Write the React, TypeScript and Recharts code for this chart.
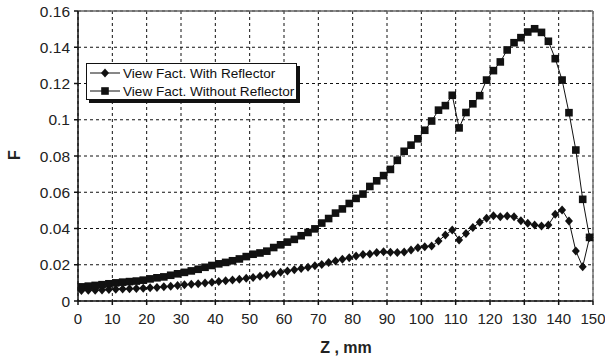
import { LineChart, Line, XAxis, YAxis, CartesianGrid, ReferenceLine } from 'recharts'

// Z positions (mm) where the view factor was sampled
const zMm = [
  1, 3, 5, 7, 9, 11, 13, 15, 17, 19, 21, 23, 25, 27, 29, 31, 33, 35, 37, 39,
  41, 43, 45, 47, 49, 51, 53, 55, 57, 59, 61, 63, 65, 67, 69, 71, 73, 75, 77, 79,
  81, 83, 85, 87, 89, 91, 93, 95, 97, 99, 101, 103, 105, 107, 109, 111, 113, 115, 117, 119,
  121, 123, 125, 127, 129, 131, 133, 135, 137, 139, 141, 143, 145, 147, 149,
]

const conReflector = [
  0.0058, 0.0059, 0.006, 0.0061, 0.0063, 0.0065, 0.0066, 0.0067, 0.0069, 0.0071,
  0.0073, 0.0075, 0.0078, 0.0081, 0.0085, 0.0089, 0.0092, 0.0095, 0.0099, 0.0104,
  0.0108, 0.0112, 0.0116, 0.012, 0.0125, 0.013, 0.0136, 0.0143, 0.015, 0.0158,
  0.0166, 0.0173, 0.018, 0.0186, 0.0195, 0.0202, 0.0213, 0.0221, 0.023, 0.0239,
  0.0248, 0.0257, 0.0259, 0.0267, 0.0272, 0.0269, 0.0267, 0.027, 0.0281, 0.0294,
  0.03, 0.0303, 0.0331, 0.0364, 0.0392, 0.0337, 0.0373, 0.0405, 0.0434, 0.0456,
  0.0471, 0.0465, 0.0469, 0.0465, 0.0443, 0.0429, 0.0419, 0.0414, 0.0419, 0.0478,
  0.0502, 0.0441, 0.0276, 0.0189, 0.0351,
]

const sinReflector = [
  0.0078, 0.0082, 0.0086, 0.009, 0.0095, 0.01, 0.0104, 0.0107, 0.011, 0.0115,
  0.0122, 0.0128, 0.0133, 0.0142, 0.015, 0.0158, 0.0166, 0.0175, 0.0186, 0.0196,
  0.0205, 0.0213, 0.0222, 0.0232, 0.0245, 0.0258, 0.0265, 0.0275, 0.0295, 0.031,
  0.0325, 0.034, 0.036, 0.0378, 0.0398, 0.043, 0.0455, 0.0485, 0.0508, 0.0538,
  0.0566, 0.059, 0.0632, 0.0663, 0.0692, 0.0726, 0.0776, 0.0826, 0.086, 0.0895,
  0.0942, 0.0993, 0.1053, 0.1078, 0.1135, 0.0955, 0.104, 0.1088, 0.1133, 0.1219,
  0.1271, 0.1319, 0.1385, 0.1425, 0.1453, 0.1484, 0.1502, 0.1482, 0.1433, 0.1337,
  0.1219, 0.1039, 0.0833, 0.0561, 0.0351,
]

const ticksZ = [0, 10, 20, 30, 40, 50, 60, 70, 80, 90, 100, 110, 120, 130, 140, 150]
const ticksF = [0, 0.02, 0.04, 0.06, 0.08, 0.1, 0.12, 0.14, 0.16]

const datos = zMm.map((z, i) => ({ z, con: conReflector[i], sin: sinReflector[i] }))

const fuente = '"Liberation Sans", Arial, Helvetica, sans-serif'

const Rombo = (p: any) => {
  const { cx, cy, index } = p
  if (cx == null || cy == null) return null
  return <path key={`r${index}`} d={`M${cx},${cy - 4.5}L${cx + 4},${cy}L${cx},${cy + 4.5}L${cx - 4},${cy}Z`} fill="#111" />
}

const Cuadro = (p: any) => {
  const { cx, cy, index } = p
  if (cx == null || cy == null) return null
  return <rect key={`c${index}`} x={cx - 3.8} y={cy - 3.8} width={7.6} height={7.6} fill="#111" />
}

function Leyenda() {
  const fila = (marca: 'r' | 'c', texto: string) => (
    <div style={{ display: 'flex', alignItems: 'center', height: 18 }}>
      <svg width={34} height={12} style={{ marginLeft: 2 }}>
        <line x1={1} y1={6} x2={31} y2={6} stroke="#111" strokeWidth={1} />
        {marca === 'r' ? (
          <path d="M16,1.5L20,6L16,10.5L12,6Z" fill="#111" />
        ) : (
          <rect x={12.2} y={2.2} width={7.6} height={7.6} fill="#111" />
        )}
      </svg>
      <span style={{ fontSize: 13.6, color: '#111', whiteSpace: 'nowrap' }}>{texto}</span>
    </div>
  )
  return (
    <div
      style={{
        position: 'absolute',
        left: 86,
        top: 63,
        width: 211,
        height: 37,
        boxSizing: 'border-box',
        border: '1px solid #111',
        background: '#fff',
        boxShadow: '3px 3px 0 #111',
        fontFamily: fuente,
      }}
    >
      {fila('r', 'View Fact. With Reflector')}
      {fila('c', 'View Fact. Without Reflector')}
    </div>
  )
}

export default function App() {
  return (
    <div style={{ position: 'absolute', left: 0, top: 0, width: 605, height: 361, background: '#fff', fontFamily: fuente }}>
      <LineChart width={605} height={361} data={datos} margin={{ top: 11, right: 12, bottom: 30, left: 0 }}>
        <CartesianGrid stroke="#111" strokeDasharray="3 3" horizontalValues={ticksF} verticalValues={ticksZ} />
        <XAxis
          dataKey="z"
          type="number"
          domain={[0, 150]}
          ticks={ticksZ}
          height={30}
          tickSize={4}
          tickMargin={8}
          stroke="#111"
          strokeWidth={1.5}
          tick={{ fill: '#222', fontSize: 15, fontFamily: fuente }}
          label={() => (
            <text x={346} y={353} textAnchor="middle" fontSize={16} fontWeight="bold" fill="#222" fontFamily={fuente}>
              Z , mm
            </text>
          )}
        />
        <YAxis
          type="number"
          domain={[0, 0.16]}
          ticks={ticksF}
          width={78}
          tickSize={4}
          tickMargin={4}
          stroke="#111"
          strokeWidth={1.5}
          tick={{ fill: '#222', fontSize: 15.5, fontFamily: fuente }}
          label={() => (
            <text x={20} y={155} transform="rotate(-90 20 155)" textAnchor="middle" fontSize={16} fontWeight="bold" fill="#222" fontFamily={fuente}>
              F
            </text>
          )}
        />
        <ReferenceLine y={0.16} stroke="#666" strokeWidth={1.5} />
        <ReferenceLine x={150} stroke="#777" strokeWidth={1.5} />
        <Line type="linear" dataKey="con" stroke="#111" strokeWidth={1} dot={Rombo} activeDot={false} isAnimationActive={false} />
        <Line type="linear" dataKey="sin" stroke="#111" strokeWidth={1} dot={Cuadro} activeDot={false} isAnimationActive={false} />
      </LineChart>
      <Leyenda />
    </div>
  )
}
